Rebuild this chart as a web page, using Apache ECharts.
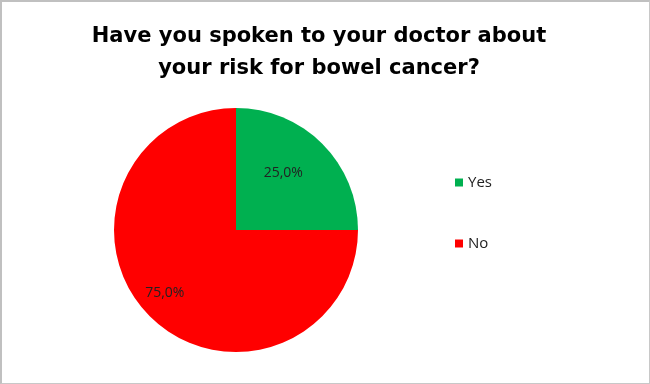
<!DOCTYPE html>
<html><head><meta charset="utf-8">
<script src="https://cdn.jsdelivr.net/npm/echarts@6/dist/echarts.min.js"></script>
<style>html,body{margin:0;padding:0;background:#fff}
#c{width:650px;height:384px;box-sizing:border-box;border:1px solid #c8c8c8;border-left:2px solid #c0c0c0;border-top:2px solid #c0c0c0}</style>
</head><body><div id="c"></div>
<script>
const titleText = "Have you spoken to your doctor about\nyour risk for bowel cancer?";
const categories = ["Yes", "No"];
const values = [25.0, 75.0];
const colors = ["#00B050", "#FF0000"];
const labelOffsets = [[2, -12], [-26, 18]];

const chart = echarts.init(document.getElementById('c'), null, {renderer: 'canvas'});
chart.setOption({
  animation: false,
  title: {
    text: titleText, left: 312, top: 14, textAlign: 'center',
    textStyle: {fontFamily: 'DejaVu Sans', fontWeight: 'bold', fontSize: 21, lineHeight: 32, color: '#000'}
  },
  legend: {
    orient: 'vertical', left: 448, top: 168, itemWidth: 8, itemHeight: 8, itemGap: 46,
    icon: 'rect', data: categories,
    textStyle: {fontFamily: 'Open Sans', fontSize: 15, color: '#222', padding: [0,0,0,0]}
  },
  series: [{
    type: 'pie', center: [234, 228], radius: 122, startAngle: 90, clockwise: true,
    label: {show: true, position: 'inside', fontFamily: 'Open Sans', fontSize: 14, color: '#222',
      formatter: p => p.value.toFixed(1).replace('.', ',') + '%'},
    labelLine: {show: false},
    emphasis: {disabled: true},
    data: categories.map((c, i) => ({name: c, value: values[i], itemStyle: {color: colors[i]},
      label: {offset: labelOffsets[i]}}))
  }]
});
</script></body></html>
